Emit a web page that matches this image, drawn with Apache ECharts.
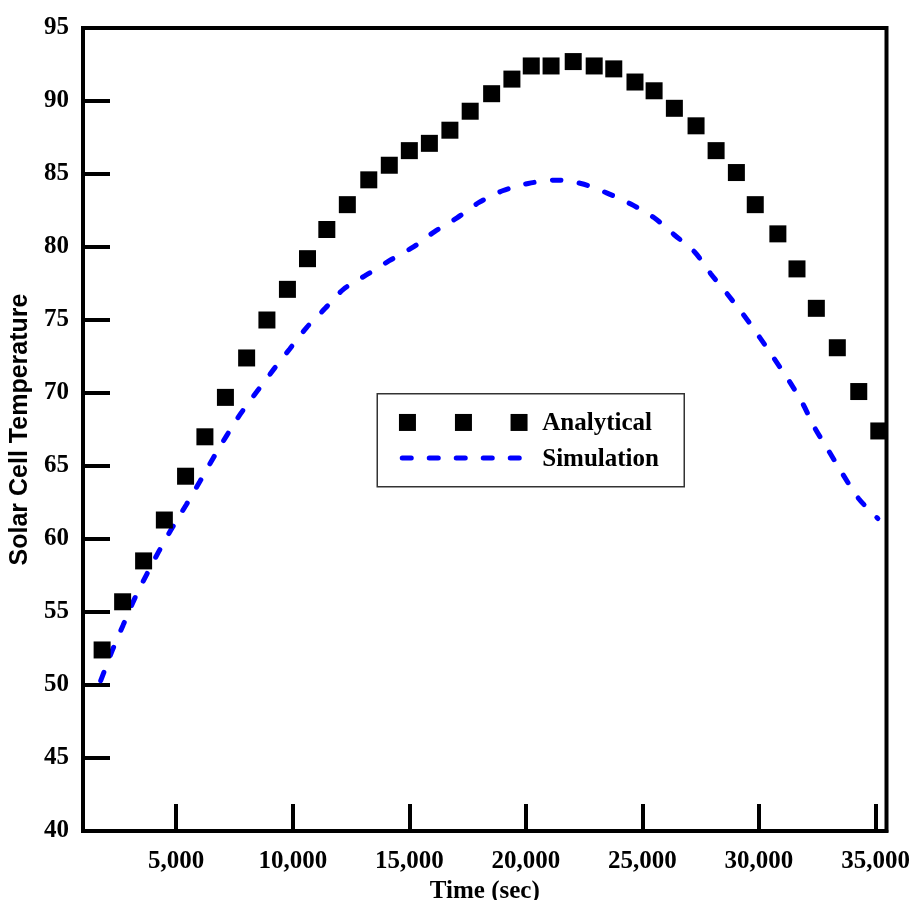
<!DOCTYPE html>
<html>
<head>
<meta charset="utf-8">
<title>Solar Cell Temperature</title>
<script src="https://cdn.jsdelivr.net/npm/echarts@6/dist/echarts.min.js"></script>
<style>
  html, body { margin: 0; padding: 0; background: #fff; }
  #chart { width: 913px; height: 900px; }
</style>
</head>
<body>
<div id="chart"></div>
<script>
// Analytical model: time (s) and cell temperature
const timeAnalytical = [1820, 2700, 3600, 4490, 5400, 6230, 7110, 8020, 8890, 9770,
  10630, 11460, 12340, 13260, 14140, 15000, 15860, 16740, 17610, 18530,
  19400, 20230, 21080, 22030, 22930, 23770, 24680, 25500, 26370, 27300,
  28160, 29030, 29840, 30810, 31630, 32460, 33360, 34280, 35140];
const tempAnalytical = [52.4, 55.7, 58.5, 61.3, 64.3, 67.0, 69.7, 72.4, 75.0, 77.1,
  79.2, 81.2, 82.9, 84.6, 85.6, 86.6, 87.1, 88.0, 89.3, 90.5,
  91.5, 92.4, 92.4, 92.7, 92.4, 92.2, 91.3, 90.7, 89.5, 88.3,
  86.6, 85.1, 82.9, 80.9, 78.5, 75.8, 73.1, 70.1, 67.4];

// Simulation results: time (s) and cell temperature
const timeSimulation = [1760, 2240, 2720, 3210, 3740, 4270, 4840, 5430, 6000, 6570,
  7170, 7770, 8460, 9170, 9860, 10600, 11390, 12170, 13170, 14140,
  15140, 16070, 17030, 17990, 19000, 20100, 21260, 22360, 23460, 24500,
  25490, 26360, 27240, 27920, 28640, 29340, 30030, 30640, 31310, 31880,
  32390, 33000, 33600, 34280, 35100];
const tempSimulation = [50.3, 52.3, 54.1, 55.9, 57.6, 59.2, 60.8, 62.35, 63.9, 65.5,
  67.1, 68.6, 70.1, 71.6, 73.0, 74.5, 75.8, 77.1, 78.1, 79.06,
  79.97, 81.04, 81.98, 83.05, 83.85, 84.35, 84.58, 84.35, 83.71, 82.94,
  82.02, 80.84, 79.66, 78.19, 76.78, 75.35, 73.81, 72.38, 70.78, 69.26,
  67.62, 66.01, 64.42, 62.76, 61.4];

// Axis ticks
const xTicks = [5000, 10000, 15000, 20000, 25000, 30000, 35000];
const seriesNames = ['Analytical', 'Simulation'];

const serif = '"Liberation Serif", "Times New Roman", serif';
const sans = '"Liberation Sans", Arial, sans-serif';

const zip = (xs, ys) => xs.map((x, i) => [x, ys[i]]);

const chart = echarts.init(document.getElementById('chart'), null, { renderer: 'canvas' });

const option = {
  animation: false,
  backgroundColor: '#ffffff',
  grid: {
    left: 83, right: 26.5, top: 28, bottom: 69,
    outerBoundsMode: 'none',
    containLabel: false,
    show: true, borderColor: '#000', borderWidth: 4, z: 3
  },
  xAxis: {
    type: 'value',
    min: 1000,
    max: 35470,
    name: 'Time (sec)',
    nameLocation: 'middle',
    nameGap: 44,
    nameTextStyle: { fontFamily: serif, fontWeight: 'bold', fontSize: 25, color: '#000' },
    axisLine: { show: true, lineStyle: { color: '#000', width: 4 } },
    axisTick: { show: true, inside: true, length: 27, customValues: xTicks,
      lineStyle: { color: '#000', width: 4 } },
    axisLabel: {
      customValues: xTicks,
      margin: 18,
      fontFamily: serif, fontWeight: 'bold', fontSize: 25, color: '#000',
      formatter: v => v.toLocaleString('en-US')
    },
    splitLine: { show: false }
  },
  yAxis: {
    type: 'value',
    min: 40,
    max: 95,
    interval: 5,
    name: 'Solar Cell Temperature',
    nameLocation: 'middle',
    nameGap: 45,
    nameTextStyle: { fontFamily: sans, fontWeight: 'bold', fontSize: 25, color: '#000' },
    axisLine: { show: true, lineStyle: { color: '#000', width: 4 } },
    axisTick: { show: true, inside: true, length: 27, lineStyle: { color: '#000', width: 4 } },
    axisLabel: { margin: 14, fontFamily: serif, fontWeight: 'bold', fontSize: 25, color: '#000' },
    splitLine: { show: false }
  },
  series: [
    {
      name: seriesNames[0],
      type: 'scatter',
      symbol: 'rect',
      symbolSize: 17,
      itemStyle: { color: '#000', opacity: 1 },
      data: zip(timeAnalytical, tempAnalytical),
      z: 2
    },
    {
      name: seriesNames[1],
      type: 'line',
      smooth: 0.3,
      showSymbol: false,
      symbol: 'none',
      lineStyle: { color: '#0000ff', width: 5, type: [9, 18], cap: 'round' },
      data: zip(timeSimulation, tempSimulation),
      z: 2
    }
  ],
  graphic: {
    elements: [
      {
        type: 'group', left: 376.5, top: 393, z: 10,
        children: [
          { type: 'rect', shape: { x: 0, y: 0, width: 307, height: 93 },
            style: { fill: '#fff', stroke: '#333', lineWidth: 1.5 } },
          { type: 'rect', shape: { x: 21.7, y: 20.2, width: 17, height: 17 }, style: { fill: '#000' } },
          { type: 'rect', shape: { x: 77.7, y: 20.2, width: 17, height: 17 }, style: { fill: '#000' } },
          { type: 'rect', shape: { x: 133.3, y: 20.2, width: 17, height: 17 }, style: { fill: '#000' } },
          { type: 'text', x: 165, y: 29.5,
            style: { text: seriesNames[0], font: 'bold 25px ' + serif, fill: '#000', verticalAlign: 'middle' } },
          { type: 'line', shape: { x1: 25, y1: 64.3, x2: 142, y2: 64.3 },
            style: { stroke: '#0000ff', lineWidth: 5, lineDash: [9, 18], lineCap: 'round' } },
          { type: 'text', x: 165, y: 66,
            style: { text: seriesNames[1], font: 'bold 25px ' + serif, fill: '#000', verticalAlign: 'middle' } }
        ]
      }
    ]
  }
};

chart.setOption(option);
</script>
</body>
</html>
